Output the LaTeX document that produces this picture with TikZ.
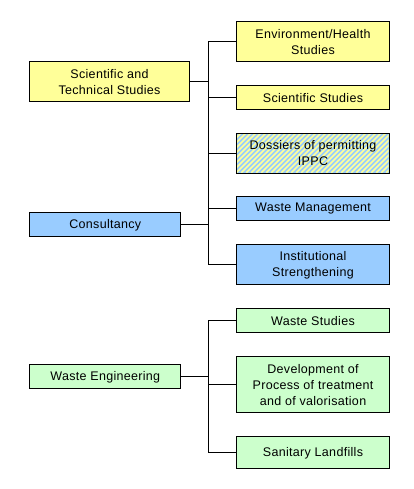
\documentclass[tikz,border=0pt]{standalone}
\usepackage{fontspec}
\setmainfont{Liberation Sans}[LetterSpace=2.5]
\definecolor{ylw}{HTML}{FFFF99}
\definecolor{blu}{HTML}{99CCFF}
\definecolor{grn}{HTML}{CCFFCC}
\begin{document}
\begin{tikzpicture}[x=1pt,y=-1pt,
  box/.style={draw=black, line width=1pt, anchor=north west, inner sep=0pt,
    align=center, font=\fontsize{12.5}{16}\selectfont, text=black},
  conn/.style={line width=1pt, draw=black}]
\useasboundingbox (0,0) rectangle (414,489);
% parents
\node[box, fill=ylw, minimum width=159.4pt, minimum height=40pt] (st) at (29.3,61.3) {Scientific and\\Technical Studies};
\node[box, fill=blu, minimum width=151pt, minimum height=24pt] (cons) at (29.3,212.3) {Consultancy};
\node[box, fill=grn, minimum width=151pt, minimum height=24pt] (we) at (29.3,364.3) {Waste Engineering};
% children
\node[box, fill=ylw, minimum width=152.4pt, minimum height=40pt] (env) at (236.3,21.3) {Environment/Health\\Studies};
\node[box, fill=ylw, minimum width=152.4pt, minimum height=24pt] (sci) at (236.3,85.3) {Scientific Studies};
% striped box: fill, stripes, then node on top
\fill[blu] (236.3,133.3) rectangle (388.7,172.7);
\begin{scope}
  \clip (236.3,133.3) rectangle (388.7,172.7);
  \foreach \i in {0,5,...,200}
    \draw[ylw, line width=1.6pt] (236.3+\i-40,172.7) -- (236.3+\i,132.7);
\end{scope}
\node[box, minimum width=152.4pt, minimum height=39.4pt] (dos) at (236.3,133.3) {Dossiers of permitting\\IPPC};
\node[box, fill=blu, minimum width=152.4pt, minimum height=24.3pt] (wm) at (236.3,196) {Waste Management};
\node[box, fill=blu, minimum width=152.4pt, minimum height=40pt] (inst) at (236.3,244.3) {Institutional\\Strengthening};
\node[box, fill=grn, minimum width=152.4pt, minimum height=24pt] (ws) at (236.3,308.3) {Waste Studies};
\node[box, fill=grn, minimum width=152.4pt, minimum height=56pt] (dev) at (236.3,356.3) {Development of\\Process of treatment\\and of valorisation};
\node[box, fill=grn, minimum width=152.4pt, minimum height=32pt] (san) at (236.3,436.3) {Sanitary Landfills};
\coordinate (bus) at (208.3,0);
% connectors
\draw[conn] (st.east) -- (st.east -| bus);
\draw[conn] (cons.east) -- (cons.east -| bus);
\draw[conn] (we.east) -- (we.east -| bus);
\foreach \c in {env,sci,dos,wm,inst,ws,dev,san}
  \draw[conn] (\c.west) -- (\c.west -| bus);
\draw[conn] (env.west -| bus) -- (inst.west -| bus);
\draw[conn] (ws.west -| bus) -- (san.west -| bus);
\end{tikzpicture}
\end{document}
